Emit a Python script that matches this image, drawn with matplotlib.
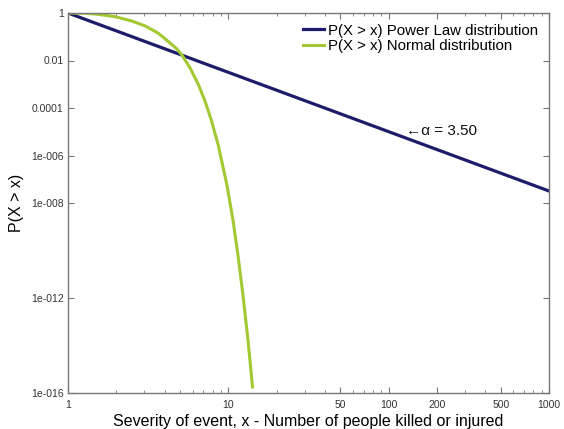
import matplotlib
matplotlib.use("Agg")
import matplotlib.pyplot as plt
from matplotlib.ticker import FixedLocator, NullFormatter, FixedFormatter

plt.rcParams['font.family'] = ['Liberation Sans', 'DejaVu Sans']

# Power law P(X > x), alpha = 3.50 (straight line on log-log)
power_x = [1, 1000]
power_y = [1.0, 3.2e-8]

# Normal distribution P(X > x)
normal_x = [1.0, 1.277, 1.546, 1.967, 2.50, 3.03, 3.667, 4.236, 4.779, 5.135,
            5.788, 6.522, 7.111, 7.83, 8.648, 9.80, 10.69, 11.48, 12.34,
            13.26, 14.15]
normal_y = [1.0, 0.975, 0.882, 0.699, 0.460, 0.2836, 0.1397, 0.0619, 0.0305,
            0.01704, 4.69e-3, 9.30e-4, 2.17e-4, 3.12e-5, 2.77e-6, 5.73e-8,
            1.92e-9, 6.46e-11, 1.34e-12, 1.70e-14, 1.79e-16]

x_ticks = [1, 10, 50, 100, 200, 500, 1000]
x_tick_labels = ['1', '10', '50', '100', '200', '500', '1000']
x_minor = [2, 3, 4, 5, 6, 7, 8, 9, 20, 30, 40, 60, 70, 80, 90,
           300, 400, 600, 700, 800, 900]
y_ticks = [1, 1e-2, 1e-4, 1e-6, 1e-8, 1e-12, 1e-16]
y_tick_labels = ['1', '0.01', '0.0001', '1e-006', '1e-008', '1e-012', '1e-016']

navy = '#1c1c6b'
green = '#a2c932'

fig = plt.figure(figsize=(5.64, 4.29), dpi=100)
ax = fig.add_axes([68/564, 1 - 393/429, (549 - 68)/564, (393 - 13)/429])

ax.plot(power_x, power_y, color=navy, lw=2.3, label='P(X > x) Power Law distribution')
ax.plot(normal_x, normal_y, color=green, lw=2.2, label='P(X > x) Normal distribution',
        solid_joinstyle='round')

ax.set_xscale('log')
ax.set_yscale('log')
ax.set_xlim(1, 1000)
ax.set_ylim(1e-16, 1)

ax.xaxis.set_major_locator(FixedLocator(x_ticks))
ax.xaxis.set_major_formatter(FixedFormatter(x_tick_labels))
ax.xaxis.set_minor_locator(FixedLocator(x_minor))
ax.xaxis.set_minor_formatter(NullFormatter())
ax.yaxis.set_major_locator(FixedLocator(y_ticks))
ax.yaxis.set_major_formatter(FixedFormatter(y_tick_labels))
ax.yaxis.set_minor_locator(FixedLocator([]))

for s in ax.spines.values():
    s.set_color('#777777')
    s.set_linewidth(1.0)

ax.tick_params(which='both', direction='in', top=True, right=True,
               color='#777777', labelsize=7.5, labelcolor='#333333')
ax.tick_params(which='major', length=4)
ax.tick_params(which='minor', length=2.5)
ax.tick_params(axis='x', pad=5)
ax.tick_params(axis='y', pad=3)

ax.set_xlabel('Severity of event, x - Number of people killed or injured',
              fontsize=11.5, labelpad=3)
ax.set_ylabel('P(X > x)', fontsize=11.5, labelpad=5)

ax.text(128, 1.07e-5, '\u2190\u03b1 = 3.50', fontsize=11, va='center', ha='left',
        color='#111111')

leg = ax.legend(loc='upper right', frameon=False, fontsize=10.8, handlelength=1.4,
                handletextpad=0.3, labelspacing=0.1, borderaxespad=0.3)

fig.savefig('out.png', dpi=100)
